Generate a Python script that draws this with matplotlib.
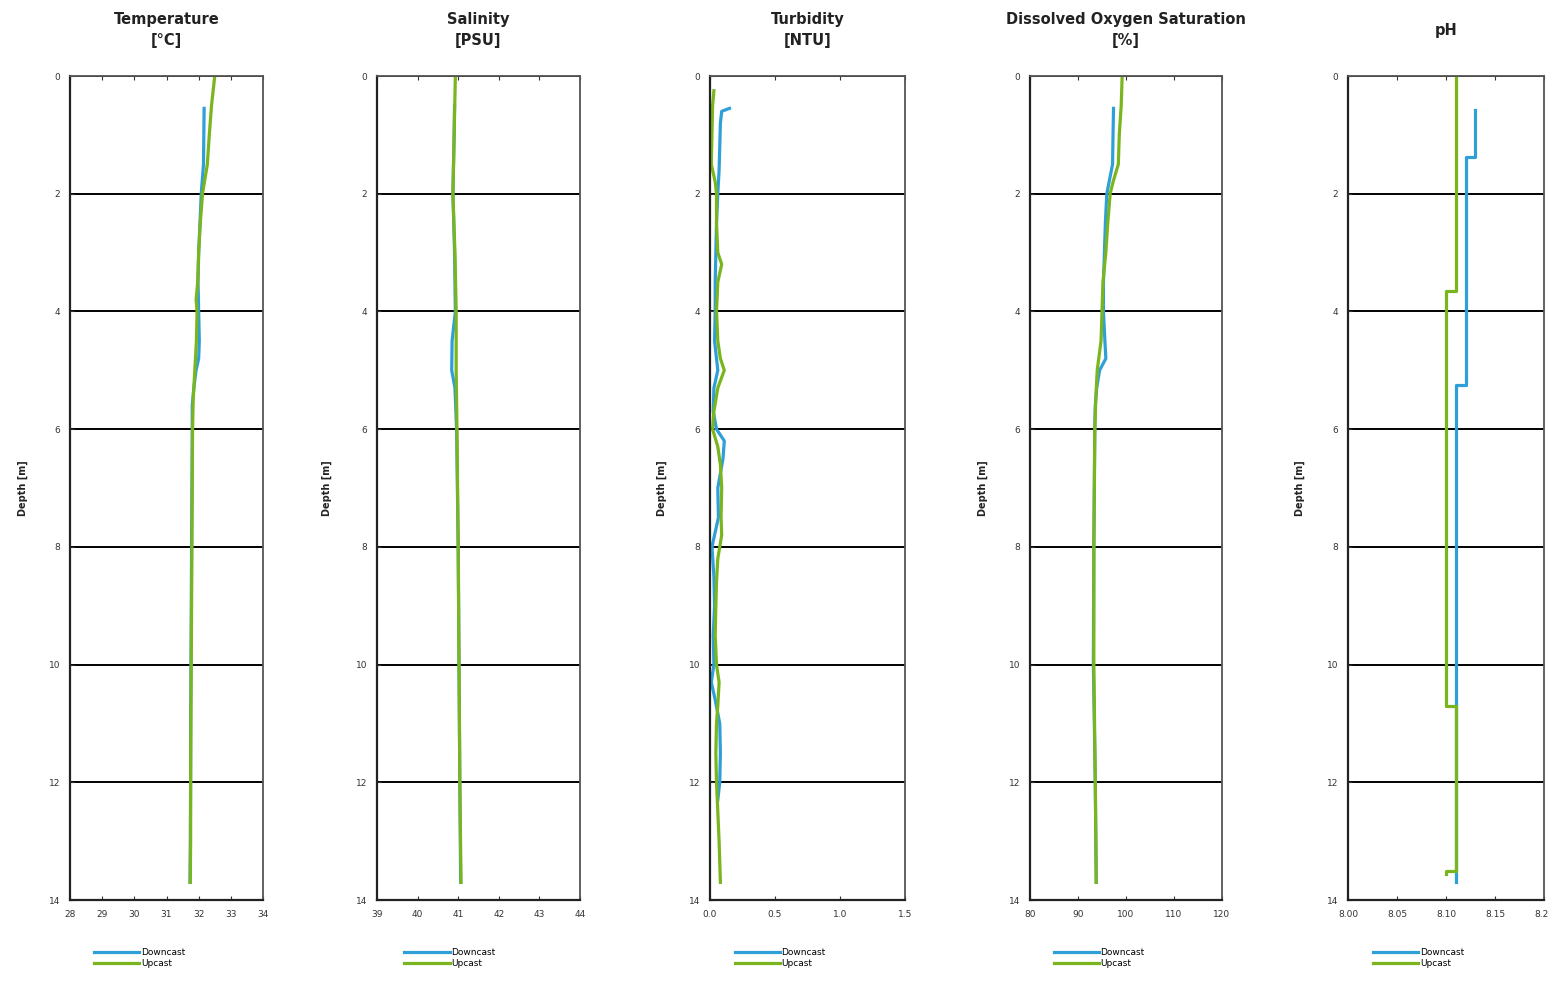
import matplotlib
matplotlib.use("Agg")
import matplotlib.pyplot as plt

# ---------------- data ----------------
titles = ["Temperature\n[°C]", "Salinity\n[PSU]", "Turbidity\n[NTU]",
          "Dissolved Oxygen Saturation\n[%]", "pH"]
legend_labels = ["Downcast", "Upcast"]
depth_ticks = [0, 2, 4, 6, 8, 10, 12, 14]

temp_xticks = [28, 29, 30, 31, 32, 33, 34]
sal_xticks = [39, 40, 41, 42, 43, 44]
turb_xticks = [0.0, 0.5, 1.0, 1.5]
do_xticks = [80, 90, 100, 110, 120]
ph_xticks = [8.00, 8.05, 8.10, 8.15, 8.20]

temp_down_depth = [0.55, 1.0, 1.5, 2.0, 2.5, 3.0, 3.5, 4.0, 4.5, 4.8, 5.0, 5.3, 5.6, 6, 7, 8, 9, 10, 11, 12, 13, 13.7]
temp_down = [32.17, 32.16, 32.15, 32.08, 32.04, 32.0, 31.98, 32.0, 32.02, 32.0, 31.92, 31.85, 31.8, 31.8, 31.79, 31.78, 31.77, 31.76, 31.75, 31.75, 31.74, 31.73]
temp_up_depth = [0.0, 0.5, 1.0, 1.5, 2.0, 2.5, 3.0, 3.5, 3.8, 4.0, 4.5, 5.0, 5.5, 6, 7, 8, 9, 10, 11, 12, 13, 13.7]
temp_up = [32.5, 32.4, 32.33, 32.27, 32.12, 32.05, 32.0, 31.97, 31.92, 31.95, 31.93, 31.88, 31.83, 31.81, 31.8, 31.79, 31.78, 31.77, 31.76, 31.75, 31.75, 31.74]

sal_down_depth = [0.5, 1, 2, 3, 4, 4.5, 5.0, 5.3, 6, 8, 10, 12, 13.7]
sal_down = [40.91, 40.9, 40.87, 40.91, 40.93, 40.85, 40.84, 40.92, 40.96, 41.0, 41.02, 41.04, 41.06]
sal_up_depth = [0, 1, 2, 3, 4, 5, 6, 8, 10, 12, 13.7]
sal_up = [40.93, 40.9, 40.87, 40.92, 40.95, 40.95, 40.97, 41.0, 41.02, 41.04, 41.07]

turb_down_depth = [0.55, 0.6, 0.8, 1.2, 1.6, 2.0, 2.5, 3.0, 3.5, 4.0, 4.5, 4.8, 5.0, 5.3, 5.7, 6.0, 6.2, 6.5, 7.0, 7.5, 8.0, 8.5, 9.0, 9.5, 10.0, 10.3, 10.6, 11.0, 11.5, 12.0, 12.3]
turb_down = [0.15, 0.09, 0.08, 0.075, 0.07, 0.06, 0.05, 0.045, 0.04, 0.04, 0.035, 0.05, 0.06, 0.03, 0.025, 0.05, 0.11, 0.1, 0.06, 0.065, 0.015, 0.03, 0.035, 0.025, 0.03, 0.01, 0.04, 0.075, 0.08, 0.075, 0.06]
turb_up_depth = [0.25, 0.5, 1.0, 1.5, 1.8, 2.0, 2.5, 3.0, 3.2, 3.5, 4.0, 4.5, 4.8, 5.0, 5.3, 5.7, 6.0, 6.3, 6.6, 7.0, 7.5, 7.8, 8.2, 8.6, 9.0, 9.5, 10.0, 10.3, 10.7, 11.0, 11.5, 12.0, 12.5, 13.0, 13.7]
turb_up = [0.03, 0.02, 0.015, 0.01, 0.04, 0.05, 0.05, 0.06, 0.09, 0.06, 0.05, 0.06, 0.08, 0.11, 0.06, 0.03, 0.02, 0.06, 0.08, 0.09, 0.085, 0.09, 0.06, 0.05, 0.045, 0.04, 0.05, 0.07, 0.06, 0.05, 0.045, 0.05, 0.06, 0.07, 0.08]

do_down_depth = [0.55, 1.0, 1.5, 2.0, 2.5, 3.0, 3.5, 4.0, 4.5, 4.8, 5.0, 5.3, 5.6, 6, 8, 10, 12, 13.7]
do_down = [97.4, 97.3, 97.2, 96.0, 95.7, 95.5, 95.3, 95.3, 95.6, 95.8, 94.5, 93.9, 93.6, 93.5, 93.3, 93.2, 93.6, 93.8]
do_up_depth = [0.0, 0.5, 1.0, 1.5, 1.8, 2.0, 2.5, 3.0, 3.5, 4.0, 4.5, 5.0, 5.5, 6, 8, 10, 12, 13.7]
do_up = [99.2, 99.0, 98.6, 98.4, 97.3, 96.7, 96.2, 95.8, 95.2, 95.0, 94.8, 94.0, 93.7, 93.5, 93.3, 93.3, 93.6, 93.8]

ph_down_depth = [0.58, 1.37, 1.37, 5.25, 5.25, 13.7]
ph_down = [8.13, 8.13, 8.12, 8.12, 8.11, 8.11]
ph_up_depth = [13.55, 13.5, 13.5, 10.7, 10.7, 3.65, 3.65, 0.0]
ph_up = [8.10, 8.10, 8.11, 8.11, 8.10, 8.10, 8.11, 8.11]

panels = [
    (temp_down_depth, temp_down, temp_up_depth, temp_up, temp_xticks, "{:.0f}"),
    (sal_down_depth, sal_down, sal_up_depth, sal_up, sal_xticks, "{:.0f}"),
    (turb_down_depth, turb_down, turb_up_depth, turb_up, turb_xticks, "{:.1f}"),
    (do_down_depth, do_down, do_up_depth, do_up, do_xticks, "{:.0f}"),
    (ph_down_depth, ph_down, ph_up_depth, ph_up, ph_xticks, "{:.2f}"),
]

BLUE = "#2f9fd8"
GREEN = "#7ab51d"

W, H = 1549, 982
fig = plt.figure(figsize=(W / 100, H / 100), dpi=100)
fig.patch.set_facecolor("white")

lefts = [70, 377, 710, 1030, 1348]
widths = [193, 203, 195, 192, 196]
top_px, bot_px = 76, 900

for i, (dd, dv, ud, uv, xt, fmt) in enumerate(panels):
    ax = fig.add_axes([lefts[i] / W, 1 - bot_px / H, widths[i] / W, (bot_px - top_px) / H])
    ax.plot(dv, dd, color=BLUE, lw=2.3, label=legend_labels[0], solid_joinstyle="round")
    ax.plot(uv, ud, color=GREEN, lw=2.3, label=legend_labels[1], solid_joinstyle="round")
    ax.set_xlim(xt[0], xt[-1])
    ax.set_ylim(14, 0)
    ax.set_xticks(xt)
    ax.set_xticklabels([fmt.format(v) for v in xt])
    ax.set_yticks(depth_ticks)
    ax.grid(axis="y", color="black", lw=1.4)
    ax.grid(axis="x", visible=False)
    ax.set_axisbelow(True)
    for s in ["left", "bottom"]:
        ax.spines[s].set_color("#222222")
        ax.spines[s].set_linewidth(1.6)
    for s in ["right", "top"]:
        ax.spines[s].set_color("#555555")
        ax.spines[s].set_linewidth(1.3)
    ax.tick_params(axis="both", which="both", direction="in", top=True, length=3,
                   labelsize=6.5, colors="#333333", pad=7)
    ax.set_ylabel("Depth [m]", fontsize=7, fontweight="bold", color="#222222")
    ax.yaxis.set_label_coords(-0.22, 0.5)
    ax.text(0.5, 1.0558, titles[i], ha="center", va="center", transform=ax.transAxes,
            fontsize=10.5, fontweight="bold", color="#222222", linespacing=1.5)
    ax.legend(loc="upper center", bbox_to_anchor=(0.36, -0.048), frameon=False,
              fontsize=6.5, handlelength=5, labelspacing=0.3, handletextpad=0.2)

fig.savefig("out.png", dpi=100, facecolor="white")
